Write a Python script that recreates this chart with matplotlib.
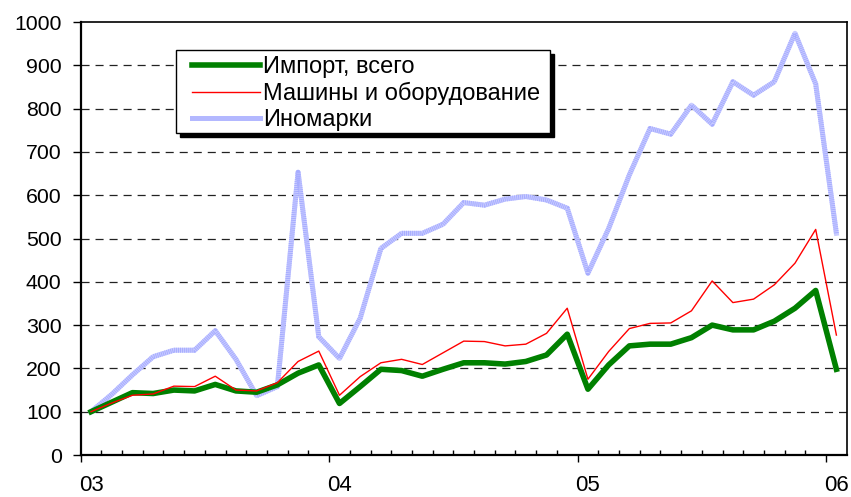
import numpy as np
import matplotlib
matplotlib.use("Agg")
import matplotlib.pyplot as plt
from matplotlib.patches import Rectangle
from matplotlib.lines import Line2D
import matplotlib.transforms as mtransforms

plt.rcParams['font.family'] = ['Liberation Sans', 'DejaVu Sans']
plt.rcParams['lines.scale_dashes'] = False

#------------------------------------------------------------------------------#
# Data: monthly values, Jan 2003 .. Jan 2006 (Jan 2003 = 100)                  #
#------------------------------------------------------------------------------#
import_total = [100, 122, 144, 142, 150, 148, 163, 148, 145, 162, 189, 208,
                119, 158, 198, 195, 182, 198, 213, 213, 210, 216, 231, 279,
                152, 208, 252, 256, 256, 271, 300, 289, 289, 309, 339, 380,
                198]
machines = [100, 120, 138, 141, 159, 158, 182, 150, 148, 167, 216, 240,
            138, 181, 213, 221, 209, 236, 263, 262, 252, 256, 281, 339,
            175, 239, 292, 304, 305, 333, 402, 352, 360, 393, 443, 521,
            277]
foreign_cars = [100, 140, 185, 227, 242, 242, 287, 221, 137, 158, 653, 273,
                223, 316, 477, 512, 512, 533, 583, 577, 591, 597, 589, 570,
                420, 523, 647, 754, 741, 808, 764, 862, 831, 862, 974, 857,
                512]

year_labels = ['03', '04', '05', '06']
legend_labels = ['Импорт, всего', 'Машины и оборудование', 'Иномарки']

x = np.arange(len(import_total))

#------------------------------------------------------------------------------#
# Figure                                                                       #
#------------------------------------------------------------------------------#
fig = plt.figure(figsize=(8.51, 4.97), dpi=100)
ax = fig.add_axes([0.0948, 0.0845, 0.9002, 0.8712])

# dashed grid
for v in range(100, 1000, 100):
    ax.axhline(v, color='#222222', linewidth=0.9, dashes=(5.8, 4.3), zorder=1)

# lines
l1, = ax.plot(x, import_total, color='#008000', linewidth=4.0, zorder=4)
l2, = ax.plot(x, machines, color='#ff0000', linewidth=1.0, zorder=5)
ax.plot(x, foreign_cars, color='#c9ccff', linewidth=3.6, zorder=3)
ax.plot(x, foreign_cars, color='#a6acff', linewidth=3.6, dashes=(0.7, 0.7),
        zorder=3)

ax.set_xlim(-0.5, len(x) - 0.5)
ax.set_ylim(0, 1000)

# y axis
ax.set_yticks(range(0, 1001, 100))
ax.tick_params(axis='y', direction='out', length=5.8, width=1.0, pad=8,
               labelsize=15.3)

# x axis: labels under Jan of each year, month ticks inside
ax.set_xticks([0, 12, 24, 36])
ax.set_xticklabels(year_labels)
ax.tick_params(axis='x', which='major', length=0, pad=14.5, labelsize=16)
month_edges = [k - 0.5 for k in range(1, len(x)) if k % 12 != 0]
ax.set_xticks(month_edges, minor=True)
ax.tick_params(axis='x', which='minor', direction='in', length=3.8, width=1.0)

# year ticks pointing out
sec = ax.secondary_xaxis('bottom')
sec.set_xticks([-0.5, 11.5, 23.5, 35.5])
sec.tick_params(direction='out', length=5, width=1.0, labelbottom=False)
sec.spines['bottom'].set_visible(False)

for s in ['left', 'bottom']:
    ax.spines[s].set_linewidth(1.6)
for s in ['top', 'right']:
    ax.spines[s].set_linewidth(1.2)

#------------------------------------------------------------------------------#
# Legend: box with a black drop shadow, legend drawn inside                    #
#------------------------------------------------------------------------------#
box_x, box_y, box_w, box_h = 0.125, 0.744, 0.488, 0.191
shadow_tr = ax.transAxes + mtransforms.ScaledTranslation(4 / 100, -4 / 100,
                                                         fig.dpi_scale_trans)
ax.add_patch(Rectangle((box_x, box_y), box_w, box_h, transform=shadow_tr,
                       facecolor='black', edgecolor='black', zorder=9))
ax.add_patch(Rectangle((box_x, box_y), box_w, box_h, transform=ax.transAxes,
                       facecolor='white', edgecolor='black', linewidth=1.0,
                       zorder=9.5))

leg_blue = Line2D([], [], color='#b3b8ff', linewidth=3.6)
leg = ax.legend([l1, l2, leg_blue], legend_labels, loc='upper left',
                bbox_to_anchor=(0.1455, 0.921), borderaxespad=0,
                fontsize=17, frameon=False, handlelength=2.88,
                handletextpad=0.13, labelspacing=0.16, borderpad=0)
leg.set_zorder(10)

fig.savefig('out.png', dpi=100)
